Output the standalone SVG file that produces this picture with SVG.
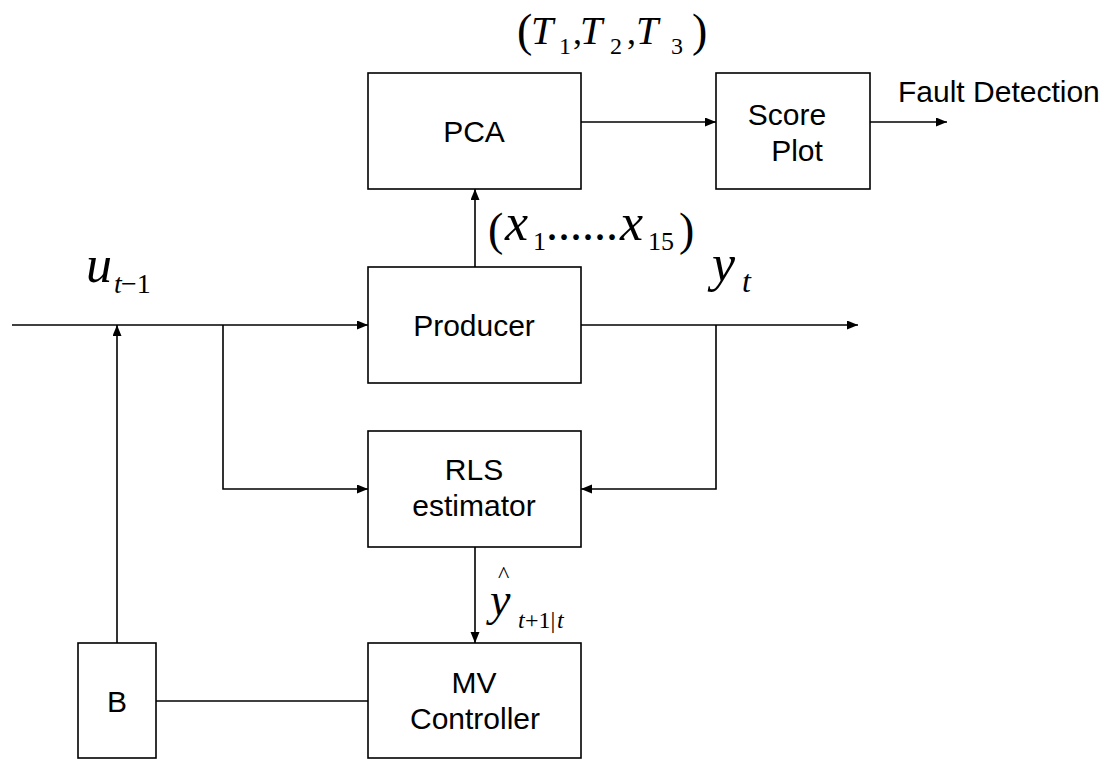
<svg xmlns="http://www.w3.org/2000/svg" width="1111" height="761" viewBox="0 0 1111 761">
<style>
.box{fill:#fff;stroke:#000;stroke-width:1.6}
.lbl{font-family:"Liberation Sans",Arial,sans-serif;font-size:30px;fill:#000;text-anchor:middle}
.con{fill:none;stroke:#000;stroke-width:1.6}
.m{font-family:"Liberation Serif","Times New Roman",serif;fill:#000}
.i{font-style:italic}
</style>
<defs>
<marker id="ah" markerUnits="userSpaceOnUse" markerWidth="12" markerHeight="10" refX="11" refY="4.5" orient="auto">
<path d="M0,0 L11,4.5 L0,9 z" fill="#000"/>
</marker>
</defs>
<rect width="1111" height="761" fill="#fff"/>
<g id="connectors">
<path class="con" d="M12,325 H368" marker-end="url(#ah)"/>
<path class="con" d="M117,643 V325" marker-end="url(#ah)"/>
<path class="con" d="M223,325 V489 H368" marker-end="url(#ah)"/>
<path class="con" d="M475,267 V189" marker-end="url(#ah)"/>
<path class="con" d="M581,325 H858" marker-end="url(#ah)"/>
<path class="con" d="M716,325 V489 H581" marker-end="url(#ah)"/>
<path class="con" d="M475,547 V643" marker-end="url(#ah)"/>
<path class="con" d="M156,701 H368"/>
<path class="con" d="M581,122 H716" marker-end="url(#ah)"/>
<path class="con" d="M870,122 H947" marker-end="url(#ah)"/>
</g>
<g id="pca">
<rect class="box" x="368" y="73" width="213" height="116"/>
<text class="lbl" x="474" y="142">PCA</text>
</g>
<g id="scoreplot">
<rect class="box" x="716" y="73" width="154" height="116"/>
<text class="lbl" x="787" y="125">Score</text>
<text class="lbl" x="797" y="161">Plot</text>
</g>
<g id="producer">
<rect class="box" x="368" y="267" width="213" height="116"/>
<text class="lbl" x="474" y="336">Producer</text>
</g>
<g id="rls">
<rect class="box" x="368" y="431" width="213" height="116"/>
<text class="lbl" x="474" y="480">RLS</text>
<text class="lbl" x="474" y="516">estimator</text>
</g>
<g id="mv">
<rect class="box" x="368" y="643" width="213" height="115"/>
<text class="lbl" x="474" y="693">MV</text>
<text class="lbl" x="475" y="729">Controller</text>
</g>
<g id="b">
<rect class="box" x="78" y="643" width="78" height="115"/>
<text class="lbl" x="117" y="712">B</text>
</g>
<g id="labels">
<text class="lbl" x="898" y="102" style="text-anchor:start">Fault Detection</text>
<text class="m" font-size="46"><tspan x="517" y="46">(</tspan><tspan x="692" y="46">)</tspan></text>
<text class="m i" font-size="40"><tspan x="531" y="44">T</tspan><tspan x="580" y="44">T</tspan><tspan x="636" y="44">T</tspan></text>
<text class="m" font-size="24"><tspan x="559" y="54">1</tspan><tspan x="610" y="54">2</tspan><tspan x="671" y="54">3</tspan></text>
<text class="m" font-size="36"><tspan x="573" y="44">,</tspan><tspan x="627" y="44">,</tspan></text>
<text class="m" font-size="46"><tspan x="488" y="245">(</tspan><tspan x="679" y="245">)</tspan></text>
<text class="m i" font-size="52"><tspan x="505" y="240">x</tspan><tspan x="620" y="240">x</tspan></text>
<text class="m" font-size="26"><tspan x="533" y="250">1</tspan><tspan x="648" y="250">15</tspan></text>
<text class="m" font-size="48" x="546" y="240">......</text>
<text class="m i" font-size="52" x="86" y="282">u</text>
<text class="m" font-size="28" y="293"><tspan class="i" x="114">t</tspan><tspan x="121">−1</tspan></text>
<text class="m i" font-size="52" x="712" y="281">y</text>
<text class="m i" font-size="32" x="742" y="292">t</text>
<text class="m"><tspan font-size="24" x="498" y="582">^</tspan><tspan class="i" font-size="46" x="490" y="615">y</tspan></text>
<text class="m" font-size="24" y="628"><tspan class="i" x="518">t</tspan><tspan x="525">+1|</tspan><tspan class="i" x="557">t</tspan></text>
</g>
</svg>
